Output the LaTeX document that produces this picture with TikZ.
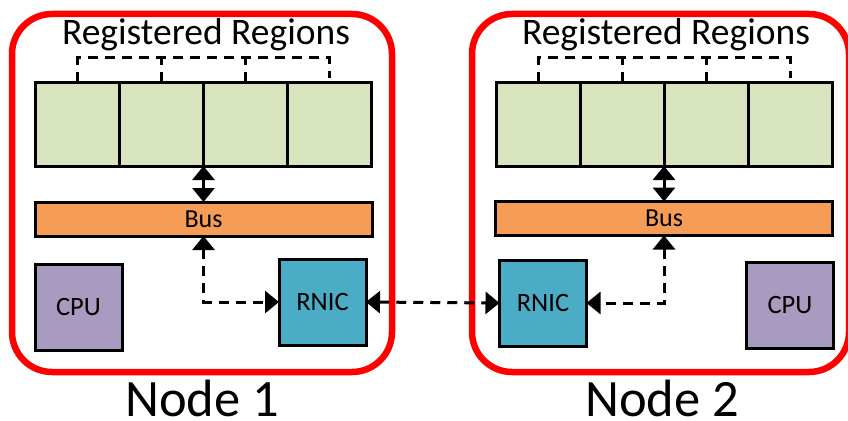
\documentclass[tikz,border=0pt]{standalone}
\usepackage{fontspec}
\setmainfont{Carlito}
\usetikzlibrary{arrows.meta}
\definecolor{regfill}{HTML}{D7E4BD}
\definecolor{busfill}{HTML}{F59D56}
\definecolor{cpufill}{HTML}{A99BBF}
\definecolor{nicfill}{HTML}{4BACC6}
\definecolor{hostred}{HTML}{FF0000}
\tikzset{
  bigtip/.tip={Triangle[width=22pt,length=14pt]},
  host/.style={draw=hostred, line width=6.5pt, rounded corners=40pt},
  cell/.style={draw=black, line width=3pt, fill=regfill, minimum width=84pt, minimum height=84pt, inner sep=0pt, outer sep=0pt},
  busbar/.style={draw=black, line width=3pt, fill=busfill, minimum width=337pt, minimum height=34pt, inner sep=0pt, outer sep=0pt, font=\fontsize{26}{26}\selectfont},
  chip/.style={draw=black, line width=3pt, minimum width=87pt, minimum height=86pt, inner sep=0pt, outer sep=0pt, font=\fontsize{26.5}{26.5}\selectfont},
  cpubox/.style={chip, fill=cpufill},
  nicbox/.style={chip, fill=nicfill},
  link/.style={line width=3pt, dash pattern=on 10pt off 7pt, {bigtip}-{bigtip}},
  solidlink/.style={line width=3pt, {bigtip}-{bigtip}},
  bracket/.style={line width=3pt, dash pattern=on 10pt off 7pt},
  title/.style={font=\fontsize{37.5}{37.5}\selectfont, inner sep=0pt},
  hostname/.style={font=\fontsize{52.5}{52.5}\selectfont, inner sep=0pt, text depth=0pt}
}
\begin{document}
\begin{tikzpicture}[x=1pt,y=-1pt]
\useasboundingbox (0,0) rectangle (848,420);

% host outlines
\draw[host] (12,14) rectangle (392,372);
\draw[host] (472,14) rectangle (849,372);

% ---------------- Node 1 ----------------
\node[title, anchor=base] (t1) at (206,45) {Registered Regions};
\foreach \i in {0,1,2,3} {
  \node[cell] (a\i) at (77.5+84*\i,124) {};
}
\draw[bracket] (a0.north) -- (a0.north |- 0,58) -- (a3.north |- 0,58) -- (a3.north |- 0,78);
\draw[bracket] (a1.north) -- (a1.north |- 0,58);
\draw[bracket] (a2.north) -- (a2.north |- 0,58);
\node[busbar] (bus1) at (203.5,219) {Bus};
\coordinate (m1) at (a1.south east);
\draw[solidlink] (m1) -- (m1 |- bus1.north);
\node[cpubox] (cpu1) at (78.5,307) {CPU};
\node[nicbox] (nic1) at (322.5,302) {RNIC};
\draw[link] (bus1.south) |- (nic1.west);

% ---------------- Node 2 ----------------
\node[title, anchor=base] (t2) at (666,45) {Registered Regions};
\foreach \i in {0,1,2,3} {
  \node[cell] (b\i) at (538+84*\i,124) {};
}
\draw[bracket] (b0.north) -- (b0.north |- 0,58) -- (b3.north |- 0,58) -- (b3.north |- 0,78);
\draw[bracket] (b1.north) -- (b1.north |- 0,58);
\draw[bracket] (b2.north) -- (b2.north |- 0,58);
\node[busbar] (bus2) at (664,218.5) {Bus};
\coordinate (m2) at (b1.south east);
\draw[solidlink] (m2) -- (m2 |- bus2.north);
\node[nicbox] (nic2) at (543,303) {RNIC};
\node[cpubox] (cpu2) at (790,305) {CPU};
\draw[link] (bus2.south) |- (nic2.east);

% link between the two RNICs
\draw[link] (nic1.east) -- (nic2.west);

% host labels
\node[hostname, anchor=base] (n1) at (202,416.5) {Node 1};
\node[hostname, anchor=base] (n2) at (662,416.5) {Node 2};
\end{tikzpicture}
\end{document}
